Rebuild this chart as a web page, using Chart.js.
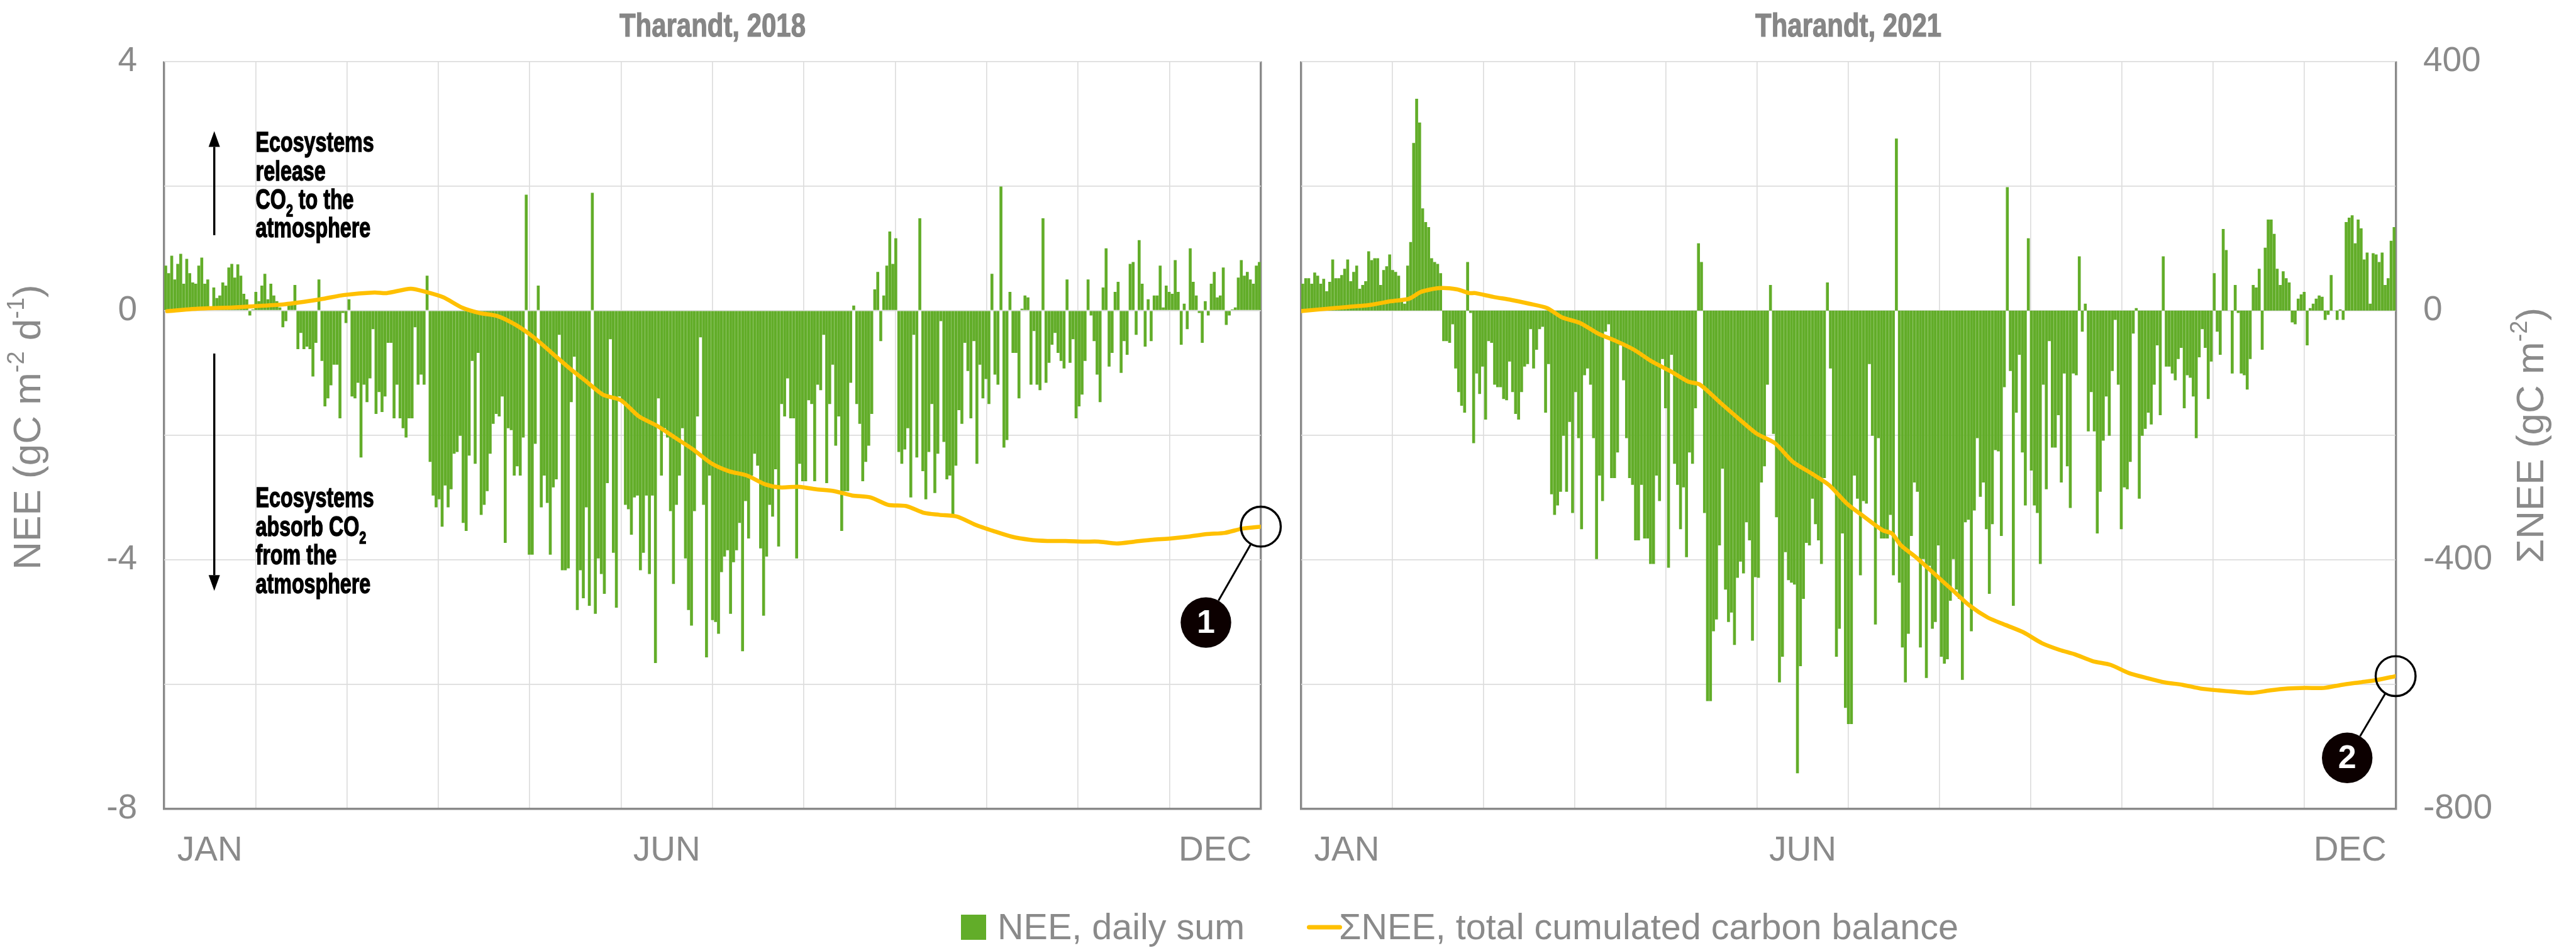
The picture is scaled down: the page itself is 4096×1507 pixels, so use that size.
<!DOCTYPE html>
<html>
<head>
<meta charset="utf-8">
<script src="https://cdn.jsdelivr.net/npm/chart.js@4.4.1/dist/chart.umd.min.js"></script>
<style>
  html, body { margin: 0; padding: 0; background: #fff; }
  body { width: 4096px; height: 1507px; position: relative; overflow: hidden;
         font-family: "Liberation Sans", Arial, sans-serif; }
  canvas { position: absolute; top: 0; }
  #c2018 { left: 0; }
  #c2021 { left: 2035px; }
  #legend { position: absolute; left: 0; top: 1438px; width: 4096px; height: 72px; }
  #legend > * { position: absolute; top: 50%; transform: translateY(-50%); }
  #legend .box { left: 1528px; width: 40px; height: 40px; background: #62ad29; }
  #legend .line { left: 2078px; width: 56px; height: 7px; border-radius: 4px; background: #ffc000; }
  #legend .lab { font-size: 57.5px; color: #8a8a8a; white-space: nowrap; line-height: 1; }
  #legend .l1 { left: 1586px; }
  #legend .l2 { left: 2129px; }
</style>
</head>
<body>
<canvas id="c2018" width="2045" height="1507"></canvas>
<canvas id="c2021" width="2061" height="1507"></canvas>
<div id="legend">
  <span class="box"></span><span class="lab l1">NEE, daily sum</span>
  <span class="line"></span><span class="lab l2">ΣNEE, total cumulated carbon balance</span>
</div>
<script>
// daily NEE (gC m-2 d-1), one value per day
const nee2018 = [
  0.72, 0.6, 0.88, 0.5, 0.75, 0.91, 0.43, 0.83, 0.6, 0.45, 0.43, 0.72, 0.85, 0.43, 0.5, 0.02, 0.37, 0.2, 0.24, 0.45, 0.4, 0.69, 0.75, 0.53, 0.74, 0.56, 0.27, 0.18, -0.08, 0.02,
  0.3, 0.15, 0.4, 0.59, 0.18, 0.43, 0.24, 0.15, 0.05, -0.27, -0.17, 0.08, 0.1, 0.41, -0.62, -0.36, -0.62, -0.58, -0.62, -1.06, -0.52, 0.5, -0.81, -1.54, -1.41, -1.2, -0.87, -0.87, -1.73, -0.04, -0.2,
  0.18, -1.38, -1.41, -1.16, -2.36, -1.19, -1.47, -1.09, -0.3, -1.66, -1.31, -1.63, -1.38, -0.52, -0.52, -1.73, -1.19, -1.73, -1.89, -2.04, -1.73, -1.73, -0.27, -1.19, -1.03, -1.19, 0.56, -2.43, -2.97, -3.16,
  -3.03, -3.47, -2.81, -3.16, -2.87, -2.3, -2.27, -2.01, -3.41, -3.54, -2.33, -0.81, -2.46, -0.68, -3.28, -3.12, -2.9, -2.3, -1.82, -1.66, -1.7, -1.38, -3.73, -1.89, -1.92, -2.65, -2.5, -2.65, -2.04, 1.86, -3.92,
  -3.92, -2.14, 0.4, -3.16, -2.65, -3.09, -3.92, -2.84, -2.71, -0.39, -4.17, -4.17, -4.14, -1.47, -0.74, -4.81, -4.17, -4.62, -3.16, -4.74, 1.89, -4.87, -3.98, -4.23, -4.55, -2.77, -0.46, -3.89, -4.77, -1.38,
  -1.44, -3.12, -3.19, -3.6, -3.0, -2.97, -4.17, -3.89, -2.97, -4.23, -2.97, -5.66, -1.41, -2.65, -1.89, -2.04, -3.22, -4.39, -3.12, -2.65, -1.89, -3.98, -4.81, -5.06, -3.22, -1.7, -0.43, -3.12, -5.57, -2.65,
  -4.97, -5.0, -5.19, -4.2, -3.95, -3.85, -4.87, -4.04, -3.85, -3.41, -5.47, -3.06, -3.66, -2.65, -2.3, -2.49, -3.82, -4.9, -3.95, -3.12, -3.31, -2.55, -3.79, -1.5, -1.7, -1.09, -1.73, -1.73, -3.98, -2.46, -2.74,
  -2.74, -1.44, -1.5, -2.74, -1.19, -1.28, -0.39, -2.77, -1.5, -0.87, -2.17, -1.7, -3.54, -2.9, -2.9, -1.16, 0.08, -1.5, -1.82, -2.74, -2.43, -2.17, -1.66, 0.34, 0.62, -0.49, 0.24, 0.72, 1.27, 0.75,
  1.16, -2.27, -2.46, -2.23, -1.89, -3.0, -0.39, -2.36, 1.48, -2.58, -3.03, -2.27, -1.5, -2.93, -2.3, -0.17, -2.11, -2.71, -2.65, -3.28, -2.49, -1.6, -1.82, -0.52, -0.97, -1.73, -0.49, -2.46, -0.87, -1.41, -1.1,
  -1.5, 0.59, -1.03, -1.19, 1.99, -2.2, -2.08, 0.3, -0.68, -0.68, -1.41, 0.03, 0.24, 0.21, -1.19, -0.33, -1.19, -1.28, 1.48, -1.16, -0.84, -0.55, -0.36, -0.68, -0.81, -0.93, 0.5, -0.84, -0.46, -1.73,
  -1.54, -1.35, -0.81, 0.5, -0.08, -0.49, -1.03, -1.47, 0.37, 1.0, -0.9, -0.68, 0.3, 0.46, -1.0, -0.49, -0.71, 0.75, 0.78, -0.39, 1.13, 0.43, -0.58, 0.18, -0.49, 0.24, 0.24, 0.72, 0.05, 0.4, 0.3,
  0.27, 0.81, 0.3, -0.55, 0.11, -0.3, 1.0, 0.46, 0.24, -0.04, -0.52, 0.15, -0.08, 0.43, 0.62, 0.21, 0.24, 0.69, -0.23, -0.08, 0.02, 0.05, 0.53, 0.81, 0.56, 0.62, 0.5, 0.43, 0.72, 0.78
]
const nee2021 = [
  0.43, 0.52, 0.52, 0.43, 0.61, 0.56, 0.43, 0.51, 0.31, 0.46, 0.82, 0.52, 0.52, 0.57, 0.67, 0.82, 0.47, 0.62, 0.72, 0.35, 0.41, 0.47, 0.95, 0.81, 0.84, 0.84, 0.41, 0.65, 0.71, 0.9,
  0.65, 0.62, 0.56, 0.15, 0.11, 0.72, 1.1, 2.69, 3.4, 3.02, 1.64, 1.42, 1.34, 0.84, 0.78, 0.75, 0.6, -0.49, -0.49, -0.52, -0.22, -0.93, -1.31, -1.53, -1.64, 0.78, -0.04, -2.13, -1.01, -1.34, -0.9,
  -1.75, -0.49, -0.52, -1.19, -1.23, -1.23, -1.42, -1.44, -0.82, -1.31, -1.66, -1.75, -1.31, -0.9, -0.86, -0.3, -0.93, -0.63, -0.3, -0.26, -1.64, -0.86, -2.95, -3.28, -3.13, -2.91, -2.01, -2.91, -1.79, -3.25,
  -1.31, -2.05, -3.51, -1.04, -0.93, -1.19, -2.05, -3.99, -2.65, -3.06, -0.34, -0.22, -2.69, -2.69, -2.28, -0.56, -1.12, -2.05, -2.69, -2.8, -3.69, -3.69, -2.8, -3.66, -3.66, -4.07, -4.07, -2.65, -3.06, -0.78, -1.57,
  -4.13, -0.71, -2.46, -2.8, -3.51, -2.84, -3.96, -2.28, -2.46, -1.57, 1.08, 0.78, -3.25, -6.27, -6.27, -5.15, -4.96, -3.77, -2.54, -4.48, -5.0, -4.85, -5.37, -4.29, -4.03, -4.22, -3.4, -3.69, -5.3, -4.28,
  -4.29, -2.76, -2.5, -1.19, 0.41, -1.98, -3.32, -5.97, -5.56, -3.88, -4.33, -4.37, -4.4, -7.43, -5.71, -4.63, -3.73, -3.77, -3.02, -3.43, -3.69, -4.07, -2.69, 0.45, -0.93, -2.87, -5.56, -5.11, -3.58, -6.38,
  -6.64, -6.64, -2.65, -3.02, -4.25, -3.06, -3.1, -0.86, -2.01, -5.04, -2.05, -3.66, -3.66, -3.66, -3.28, -4.25, 2.76, -4.37, -5.41, -5.97, -5.19, -3.62, -2.76, -2.91, -5.41, -3.99, -5.9, -4.1, -5.11, -5.0, -3.77,
  -5.56, -5.67, -5.6, -4.66, -3.99, -4.48, -4.63, -5.93, -3.4, -3.36, -5.15, -3.21, -2.05, -2.99, -2.76, -3.51, -4.55, -3.43, -2.24, -2.26, -3.62, -1.23, 1.98, -0.97, -4.74, -1.64, -0.71, -2.28, -3.13, 1.16,
  -2.57, -3.13, -3.25, -4.07, -1.19, -2.87, -0.49, -2.2, -2.2, -1.68, -2.76, -1.01, -2.5, -3.17, -1.01, -1.04, 0.87, -0.34, 0.11, -1.94, -1.31, -1.94, -3.58, -2.91, -2.09, -1.38, -2.01, -0.97, -0.15, -1.19, -3.51,
  -2.84, -2.87, -2.43, -0.37, 0.04, -3.02, -2.01, -1.9, -1.64, -1.83, -1.19, -0.56, -1.68, 0.87, -0.9, -0.9, -1.01, -1.12, -0.78, -0.6, -1.57, -1.04, -1.08, -1.38, -2.05, -0.75, -0.3, -0.6, -1.42, -0.82,
  0.6, -0.34, -0.71, 1.31, 0.97, 0, -1.01, 0.41, -0.04, -1.01, -1.04, -1.27, -0.78, 0.41, 0.37, 0.67, -0.63, 1.01, 1.46, 1.46, 1.23, 0.67, 0.41, 0.63, 0.52, 0.45, -0.19, -0.22, 0.19, 0.26, 0.3,
  -0.56, 0.04, 0.11, 0.19, 0.24, 0.22, -0.15, -0.07, 0.57, 0, -0.15, 0.02, -0.15, 1.42, 1.49, 1.53, 1.08, 1.46, 1.32, 0.82, 0.93, 0.11, 0.92, 0.9, 0.78, 0.93, 0.41, 0.52, 1.12, 1.34
]

// cumulated balance (gC m-2), read at these days of the year
const cumDays2018 = [1, 11, 23, 30, 40, 52, 60, 70, 74, 82, 87, 93, 99, 105, 111, 117, 123, 129, 135, 140, 146, 152, 158, 164, 170, 176, 182, 188, 194, 200, 205, 211, 217, 223, 229, 235, 241, 247, 253, 258, 264, 270, 276, 282, 288, 294, 300, 306, 311, 317, 323, 329, 335, 341, 347, 353, 359, 365]
const cum2018 = [-1, 3, 5, 7, 10, 18, 25, 29, 28, 35, 30, 21, 5, -4, -9, -23, -43, -68, -93, -112, -135, -144, -170, -185, -204, -223, -245, -258, -265, -279, -284, -283, -287, -290, -297, -300, -312, -314, -325, -328, -331, -344, -354, -363, -368, -370, -370, -371, -371, -374, -371, -368, -366, -363, -359, -357, -350, -347]
const cumDays2021 = [0, 11, 23, 30, 36, 40, 46, 52, 56, 58, 64, 70, 76, 82, 87, 93, 99, 105, 111, 117, 123, 129, 133, 140, 146, 152, 158, 164, 170, 176, 182, 188, 194, 197, 200, 205, 211, 217, 223, 229, 235, 241, 247, 253, 258, 264, 270, 276, 282, 288, 294, 300, 306, 311, 317, 323, 329, 335, 341, 347, 353, 359, 365]
const cum2021 = [-1, 4, 9, 15, 19, 30, 36, 34, 28, 28, 22, 17, 11, 4, -11, -20, -37, -49, -63, -82, -97, -114, -119, -149, -174, -198, -213, -243, -261, -280, -310, -332, -353, -358, -377, -396, -422, -448, -474, -493, -505, -517, -534, -545, -552, -563, -569, -582, -590, -597, -601, -607, -610, -612, -614, -610, -607, -606, -606, -601, -597, -593, -587]

const monthNames = ['JAN', 'JUN', 'DEC']
const monthIndex = [0, 5, 11]
const DAYS = 365, MONTHS = 12

const GREEN = '#62ad29', YELLOW = '#ffc000', GRAY = '#8a8a8a', GRID = '#dddddd'
const SANS = '"Liberation Sans", Arial, sans-serif'

Chart.defaults.font.family = SANS
Chart.defaults.color = GRAY

// month boundaries for the grid, month centres for the labels
const bounds = []
for (let m = 0; m <= MONTHS; m++) bounds.push(m * DAYS / MONTHS)
const centres = monthIndex.map(m => (m + 0.5) * DAYS / MONTHS)
const labelOf = new Map(centres.map((c, i) => [c, monthNames[i]]))

function drawArrow(ctx, x, y0, y1) {
  const dir = Math.sign(y1 - y0), head = 25
  ctx.beginPath()
  ctx.moveTo(x, y0)
  ctx.lineTo(x, y1 - dir * head)
  ctx.stroke()
  ctx.beginPath()
  ctx.moveTo(x, y1)
  ctx.lineTo(x - 9, y1 - dir * head)
  ctx.lineTo(x + 9, y1 - dir * head)
  ctx.closePath()
  ctx.fill()
}

// text pieces: [string, kind] where kind 'sub' / 'sup' is drawn small
function richWidth(ctx, parts, big, small) {
  let w = 0
  parts.forEach(p => { ctx.font = p[1] ? small : big; w += ctx.measureText(p[0]).width })
  return w
}
function drawRich(ctx, x, y, parts, big, small, shift, heavy) {
  parts.forEach(p => {
    ctx.font = p[1] ? small : big
    const dy = p[1] === 'sub' ? shift.sub : p[1] === 'sup' ? shift.sup : 0
    ctx.fillText(p[0], x, y + dy)
    if (heavy) ctx.strokeText(p[0], x, y + dy)
    x += ctx.measureText(p[0]).width
  })
}
// condensed bold text: squeeze a normal bold face to a wanted width
function squeezed(ctx, x, y, fn, sx) {
  ctx.save()
  ctx.translate(x, y)
  ctx.scale(sx, 1)
  fn()
  ctx.restore()
}

const notes = {
  id: 'notes',
  afterDatasetsDraw(chart, args, o) {
    const ctx = chart.ctx, area = chart.chartArea, yS = chart.scales.y
    ctx.save()

    // panel title
    ctx.font = 'bold 51px ' + SANS
    ctx.fillStyle = '#868686'
    ctx.strokeStyle = '#868686'
    ctx.lineWidth = 1.2
    ctx.textAlign = 'left'
    ctx.textBaseline = 'alphabetic'
    const tw = ctx.measureText(o.title).width, tsx = 296 / tw
    squeezed(ctx, (area.left + area.right) / 2 - 296 / 2, 57.5, () => {
      ctx.fillText(o.title, 0, 0)
      ctx.strokeText(o.title, 0, 0)
    }, tsx)

    if (o.arrows) {
      const ax = area.left + 79.6
      ctx.strokeStyle = '#000'
      ctx.fillStyle = '#000'
      ctx.lineWidth = 3.4
      drawArrow(ctx, ax, yS.getPixelForValue(1.21), yS.getPixelForValue(2.88))
      drawArrow(ctx, ax, yS.getPixelForValue(-0.69), yS.getPixelForValue(-4.5))
      const big = 'bold 44px ' + SANS, small = 'bold 27px ' + SANS
      ctx.font = big
      const sx = 188 / ctx.measureText('Ecosystems').width
      const shift = {sub: 12, sup: 0}
      ctx.lineWidth = 1.4
      const up = [[['Ecosystems']], [['release']], [['CO'], ['2', 'sub'], [' to the']], [['atmosphere']]]
      const down = [[['Ecosystems']], [['absorb CO'], ['2', 'sub']], [['from the']], [['atmosphere']]]
      const tx = area.left + 145.5
      up.forEach((l, i) => squeezed(ctx, tx, yS.getPixelForValue(2.55) + i * 45.4,
        () => drawRich(ctx, 0, 0, l, big, small, shift, true), sx))
      down.forEach((l, i) => squeezed(ctx, tx, yS.getPixelForValue(-3.16) + i * 45.4,
        () => drawRich(ctx, 0, 0, l, big, small, shift, true), sx))
    }

    // y axis title, read from bottom to top
    if (o.axisTitle) {
      const t = o.axisTitle
      const big = '62px ' + SANS, small = '38px ' + SANS
      ctx.fillStyle = GRAY
      ctx.textAlign = 'left'
      ctx.textBaseline = 'middle'
      ctx.save()
      ctx.translate(t.x, t.y)
      ctx.rotate(-Math.PI / 2)
      const w = richWidth(ctx, t.parts, big, small)
      drawRich(ctx, -w / 2, 0, t.parts, big, small, {sub: 0, sup: -19}, false)
      ctx.restore()
    }

    // ring on the last point of the cumulated line, numbered badge below it
    const meta = chart.getDatasetMeta(1)
    const pt = meta.data[meta.data.length - 1]
    const cx = pt.x, cy = pt.y, r1 = 31.7, r2 = 40.2
    const bx = cx + o.badge.dx, by = cy + o.badge.dy
    const len = Math.hypot(bx - cx, by - cy), ux = (bx - cx) / len, uy = (by - cy) / len
    ctx.strokeStyle = '#000'
    ctx.lineWidth = 3.4
    ctx.beginPath()
    ctx.arc(cx, cy, r1, 0, Math.PI * 2)
    ctx.stroke()
    ctx.lineWidth = 3
    ctx.beginPath()
    ctx.moveTo(cx + ux * r1, cy + uy * r1)
    ctx.lineTo(bx - ux * r2, by - uy * r2)
    ctx.stroke()
    ctx.fillStyle = '#0c0000'
    ctx.beginPath()
    ctx.arc(bx, by, r2, 0, Math.PI * 2)
    ctx.fill()
    ctx.fillStyle = '#fff'
    ctx.font = 'bold 52px ' + SANS
    ctx.textAlign = 'center'
    ctx.textBaseline = 'middle'
    ctx.fillText(o.badge.text, bx, by + 2)
    ctx.restore()
  }
}

function xScale() {
  return {
    type: 'linear', min: 0, max: DAYS, offset: false,
    afterBuildTicks: s => { s.ticks = bounds.concat(centres).map(v => ({value: v})) },
    afterFit: s => { s.height = 221.3 },
    ticks: {
      autoSkip: false, maxRotation: 0, padding: 34, color: GRAY,
      font: {size: 55},
      callback: v => labelOf.get(v) || ''
    },
    grid: {
      offset: false,
      drawTicks: false,
      color: c => {
        const v = c.tick ? c.tick.value : -1
        if (labelOf.has(v)) return 'rgba(0,0,0,0)'
        return (v === 0 || v === DAYS) ? GRAY : GRID
      },
      lineWidth: c => {
        const v = c.tick ? c.tick.value : -1
        return (v === 0 || v === DAYS) ? 3.4 : 1.7
      }
    },
    border: {display: true, color: GRAY, width: 3.4}
  }
}

function leftAxis(show) {
  return {
    display: show, position: 'left', min: -8, max: 4,
    afterFit: s => { if (show) s.width = 261.1 },
    ticks: {stepSize: 2, padding: 43, font: {size: 55}, color: GRAY,
            callback: v => v % 4 === 0 ? String(v) : ''},
    grid: {drawTicks: false, color: GRID, lineWidth: 1.7},
    border: {display: false}
  }
}

function rightAxis(show) {
  return {
    display: show, position: 'right', min: -800, max: 400,
    afterFit: s => { if (show) s.width = 286.8 },
    ticks: {stepSize: 200, padding: 43.7, font: {size: 55}, color: GRAY,
            callback: v => v % 400 === 0 ? String(v) : ''},
    grid: {drawTicks: false, color: GRID, lineWidth: 1.7},
    border: {display: false}
  }
}

function makeChart(id, nee, days, cum, left, noteOpts) {
  return new Chart(document.getElementById(id), {
    type: 'bar',
    data: {
      datasets: [
        {
          type: 'bar', label: 'NEE, daily sum', order: 1,
          data: nee.map((v, i) => ({x: i + 0.5, y: v})),
          backgroundColor: GREEN, borderWidth: 0,
          barPercentage: 0.97, categoryPercentage: 1, yAxisID: 'y'
        },
        {
          type: 'line', label: 'ΣNEE, total cumulated carbon balance', order: 0,
          data: days.map((d, i) => ({x: d, y: cum[i]})),
          borderColor: YELLOW, borderWidth: 6.5, pointRadius: 0, tension: 0.25,
          borderCapStyle: 'round', fill: false, yAxisID: 'y2'
        }
      ]
    },
    options: {
      responsive: false, animation: false,
      layout: {padding: left ? {left: 0, right: 40.2, top: 97.6, bottom: 0} : {left: 30.5, right: 0, top: 97.6, bottom: 0}},
      scales: {x: xScale(), y: leftAxis(left), y2: rightAxis(!left)},
      plugins: {
        legend: {display: false},
        tooltip: {enabled: false},
        notes: noteOpts
      }
    },
    plugins: [notes]
  })
}

makeChart('c2018', nee2018, cumDays2018, cum2018, true, {
  title: 'Tharandt, 2018',
  arrows: true,
  badge: {text: '1', dx: -87.3, dy: 152.4},
  axisTitle: {x: 47, y: 679, parts: [['NEE (gC m'], ['-2', 'sup'], [' d'], ['-1', 'sup'], [')']]}
})
makeChart('c2021', nee2021, cumDays2021, cum2021, false, {
  title: 'Tharandt, 2021',
  arrows: false,
  badge: {text: '2', dx: -77, dy: 130},
  axisTitle: {x: 1992, y: 692, parts: [['ΣNEE (gC m'], ['-2', 'sup'], [')']]}
})
</script>
</body>
</html>
